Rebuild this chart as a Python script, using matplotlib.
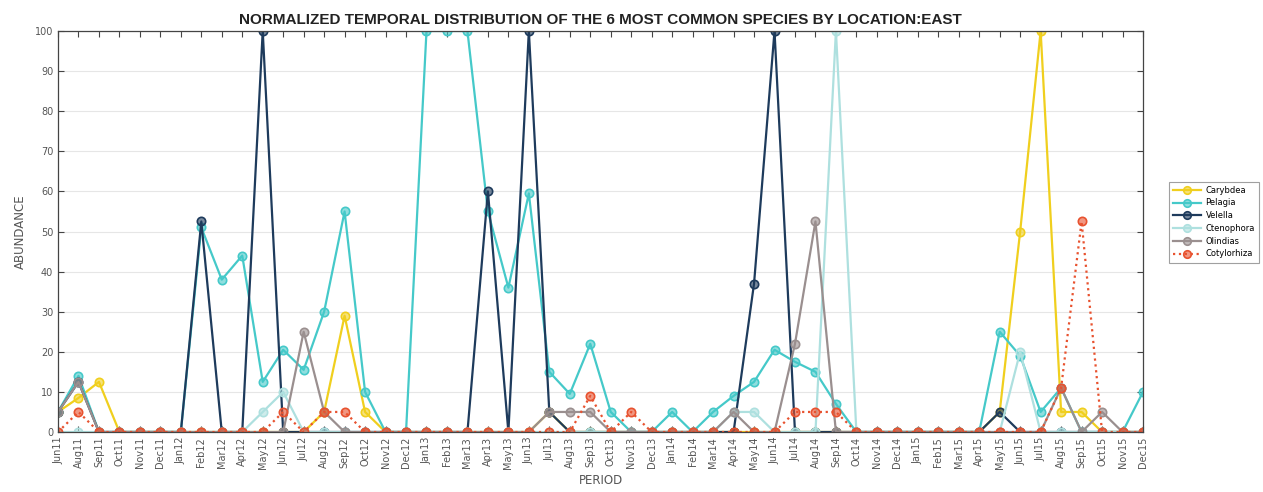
import matplotlib

matplotlib.use("Agg")

import matplotlib.pyplot as plt
from matplotlib.colors import to_rgba

periods = [
    "Jun11", "Aug11", "Sep11", "Oct11", "Nov11", "Dec11",
    "Jan12", "Feb12", "Mar12", "Apr12", "May12", "Jun12", "Jul12", "Aug12", "Sep12", "Oct12", "Nov12", "Dec12",
    "Jan13", "Feb13", "Mar13", "Apr13", "May13", "Jun13", "Jul13", "Aug13", "Sep13", "Oct13", "Nov13", "Dec13",
    "Jan14", "Feb14", "Mar14", "Apr14", "May14", "Jun14", "Jul14", "Aug14", "Sep14", "Oct14", "Nov14", "Dec14",
    "Jan15", "Feb15", "Mar15", "Apr15", "May15", "Jun15", "Jul15", "Aug15", "Sep15", "Oct15", "Nov15", "Dec15",
]

carybdea = [
    5, 8.5, 12.5, 0, 0, 0,
    0, 0, 0, 0, 0, 0, 0, 5, 29, 5, 0, 0,
    0, 0, 0, 0, 0, 0, 5, 0, 0, 0, 0, 0,
    0, 0, 0, 0, 0, 0, 0, 0, 0, 0, 0, 0,
    0, 0, 0, 0, 5, 50, 100, 5, 5, 0, 0, 0,
]
pelagia = [
    5, 14, 0, 0, 0, 0,
    0, 51, 38, 44, 12.5, 20.5, 15.5, 30, 55, 10, 0, 0,
    100, 100, 100, 55, 36, 59.5, 15, 9.5, 22, 5, 0, 0,
    5, 0, 5, 9, 12.5, 20.5, 17.5, 15, 7, 0, 0, 0,
    0, 0, 0, 0, 25, 19, 5, 11, 0, 0, 0, 10,
]
velella = [
    5, 12.5, 0, 0, 0, 0,
    0, 52.5, 0, 0, 100, 0, 0, 0, 0, 0, 0, 0,
    0, 0, 0, 60, 0, 100, 5, 0, 0, 0, 0, 0,
    0, 0, 0, 0, 37, 100, 0, 0, 0, 0, 0, 0,
    0, 0, 0, 0, 5, 0, 0, 0, 0, 0, 0, 0,
]
ctenophora = [
    0, 0, 0, 0, 0, 0,
    0, 0, 0, 0, 5, 10, 0, 0, 0, 0, 0, 0,
    0, 0, 0, 0, 0, 0, 0, 0, 0, 0, 0, 0,
    0, 0, 0, 5, 5, 0, 0, 0, 100, 0, 0, 0,
    0, 0, 0, 0, 0, 20, 0, 0, 0, 0, 0, 0,
]
olindias = [
    5, 12.5, 0, 0, 0, 0,
    0, 0, 0, 0, 0, 0, 25, 5, 0, 0, 0, 0,
    0, 0, 0, 0, 0, 0, 5, 5, 5, 0, 0, 0,
    0, 0, 0, 5, 0, 0, 22, 52.5, 0, 0, 0, 0,
    0, 0, 0, 0, 0, 0, 0, 11, 0, 5, 0, 0,
]
cotylorhiza = [
    0, 5, 0, 0, 0, 0,
    0, 0, 0, 0, 0, 5, 0, 5, 5, 0, 0, 0,
    0, 0, 0, 0, 0, 0, 0, 0, 9, 0, 5, 0,
    0, 0, 0, 0, 0, 0, 5, 5, 5, 0, 0, 0,
    0, 0, 0, 0, 0, 0, 0, 11, 52.5, 0, 0, 0,
]

series = [
    ("Carybdea", carybdea, "#f0cf1e", "-"),
    ("Pelagia", pelagia, "#45c9c9", "-"),
    ("Velella", velella, "#1e3b5c", "-"),
    ("Ctenophora", ctenophora, "#aee0df", "-"),
    ("Olindias", olindias, "#9a8f8f", "-"),
    ("Cotylorhiza", cotylorhiza, "#e8522f", ":"),
]

fig = plt.figure(figsize=(12.63, 4.92), dpi=100)
ax = fig.add_axes([58 / 1263, 1 - 432 / 492, (1143 - 58) / 1263, (432 - 31) / 492])

x = list(range(1, len(periods) + 1))
for name, vals, color, ls in series:
    ax.plot(
        x, vals, ls, color=color, lw=1.6, marker="o", ms=6,
        mfc=to_rgba(color, 0.6), mec=color, mew=1.2, label=name,
    )

ax.set_xlim(1, len(periods))
ax.set_ylim(0, 100)
ax.set_yticks(range(0, 101, 10))
ax.set_xticks(x)
ax.set_xticklabels(periods, rotation=90, fontsize=7, color="#555555")
ax.tick_params(axis="y", labelsize=7, labelcolor="#555555")
ax.tick_params(direction="in", top=True, right=True, length=4, color="#444444")
ax.grid(True, axis="y", color="#e6e6e6", lw=0.8)
ax.set_axisbelow(True)
for sp in ax.spines.values():
    sp.set_color("#444444")
    sp.set_linewidth(0.9)

ax.set_xlabel("PERIOD", fontsize=8.5, color="#555555", labelpad=3)
ax.set_ylabel("ABUNDANCE", fontsize=8.5, color="#555555", labelpad=6)
ax.set_title(
    "NORMALIZED TEMPORAL DISTRIBUTION OF THE 6 MOST COMMON SPECIES BY LOCATION:EAST",
    fontsize=11, fontweight="bold", color="#222222", pad=5,
    family=["Liberation Sans", "DejaVu Sans"],
)

leg = ax.legend(
    loc="upper left", bbox_to_anchor=(1.02, 0.635), fontsize=6, frameon=True,
    fancybox=False, edgecolor="#888888", handlelength=3.4, borderpad=0.5,
    labelspacing=0.45, handletextpad=0.5, markerscale=0.9,
)
leg.get_frame().set_linewidth(0.8)

fig.savefig("out.png", dpi=100)
